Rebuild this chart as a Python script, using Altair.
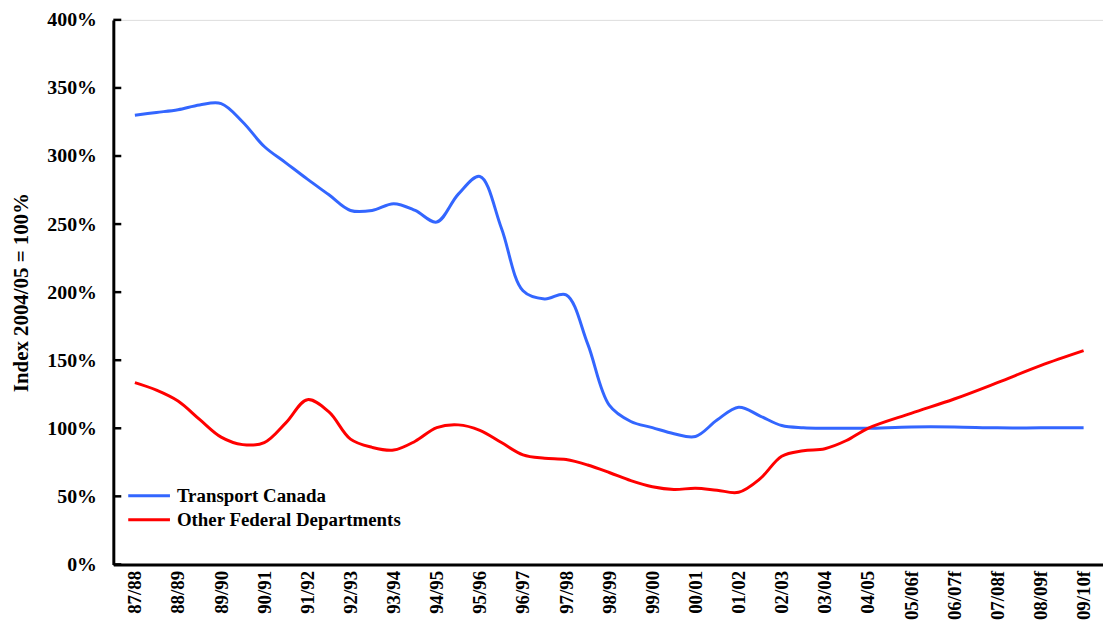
import altair as alt
import pandas as pd

# Category labels (fiscal years, f = forecast)
periods = ["87/88", "88/89", "89/90", "90/91", "91/92", "92/93", "93/94", "94/95",
           "95/96", "96/97", "97/98", "98/99", "99/00", "00/01", "01/02", "02/03",
           "03/04", "04/05", "05/06f", "06/07f", "07/08f", "08/09f", "09/10f"]

# Positions (in category steps) at which values were read
step_pos = [0, 0.5, 1, 1.5, 2, 2.5, 3, 3.5, 4, 4.5, 5, 5.5, 6, 6.5, 7, 7.5, 8, 8.5,
            9, 9.5, 10, 10.5, 11, 11.5, 12, 12.5, 13, 13.5, 14, 14.5, 15, 15.5, 16,
            16.5, 17, 18, 19, 20, 21, 22]

transport_canada = [330, 332, 334, 337.5, 338.5, 325, 307, 295, 283, 271.5, 260, 260,
                    265, 260, 251.5, 272, 285, 247, 201, 195, 198, 162, 117, 105,
                    100.5, 96, 94, 106, 115.5, 109, 102, 100.4, 100, 100, 100,
                    101, 101, 100.3, 100.3, 100.3]

other_federal = [133.5, 128, 120, 106.5, 93.5, 88, 89.5, 104, 121, 112, 92, 86, 84,
                 90.5, 100.5, 102.5, 98.5, 89.5, 80.5, 78, 77, 73, 67.5, 61.5, 57, 55,
                 56, 54.5, 53, 63, 79.5, 83.5, 85, 91, 100, 111, 121.5, 133.5, 146, 157]

series_names = ["Transport Canada", "Other Federal Departments"]
series_colors = ["#3366FF", "#FF0000"]
y_ticks = [0, 50, 100, 150, 200, 250, 300, 350, 400]

FONT = "Liberation Serif"

rows = []
for p, v in zip(step_pos, transport_canada):
    rows.append({"pos": p, "value": v, "series": series_names[0]})
for p, v in zip(step_pos, other_federal):
    rows.append({"pos": p, "value": v, "series": series_names[1]})
df = pd.DataFrame(rows)

label_array = "[" + ",".join("'" + p + "'" for p in periods) + "]"

x_scale = alt.Scale(domain=[-0.5, 22.45], nice=False, zero=False)
y_scale = alt.Scale(domain=[0, 400], nice=False)

lines = alt.Chart(df).mark_line(strokeWidth=3, interpolate="catmull-rom").encode(
    x=alt.X("pos:Q", scale=x_scale,
            axis=alt.Axis(values=list(range(len(periods))),
                          labelExpr=label_array + "[datum.value]",
                          labelAngle=-90, labelFont=FONT, labelFontSize=19,
                          labelFontWeight="bold", labelColor="black",
                          labelPadding=6, ticks=False, tickSize=0, grid=False,
                          domainColor="black", domainWidth=3, title=None,
                          labelOverlap=False)),
    y=alt.Y("value:Q", scale=y_scale,
            axis=alt.Axis(values=y_ticks, labelExpr="datum.value + '%'",
                          labelFont=FONT, labelFontSize=20, labelFontWeight="bold",
                          labelColor="black", labelPadding=17, ticks=False,
                          tickSize=0, grid=False, domainColor="black",
                          domainWidth=3, title="Index 2004/05 = 100%",
                          titleFont=FONT, titleFontSize=21, titleFontWeight="bold",
                          titleColor="black", titleX=-82, labelOverlap=False)),
    color=alt.Color("series:N",
                    scale=alt.Scale(domain=series_names, range=series_colors),
                    sort=series_names,
                    legend=alt.Legend(orient="none", legendX=24, legendY=467,
                                      title=None, symbolType="M-2,0H2",
                                      symbolStrokeWidth=3, symbolSize=441,
                                      symbolFillColor="transparent",
                                      labelFont=FONT, labelFontSize=19,
                                      labelFontWeight="bold", labelColor="black",
                                      labelOffset=16, rowPadding=2,
                                      labelLimit=0)),
    order=alt.Order("pos:Q"),
)

tick_df = pd.DataFrame({"y": y_ticks})
ticks = alt.Chart(tick_df).mark_rule(color="black", strokeWidth=2.5).encode(
    y=alt.Y("y:Q", scale=y_scale),
    x=alt.value(0),
    x2=alt.value(8),
)

chart = alt.layer(ticks, lines).properties(
    width=996,
    height=548,
    autosize=alt.AutoSizeParams(type="none"),
    padding={"left": 106, "top": 10, "right": 0, "bottom": 55},
).configure_view(stroke=None).configure(background="white")

chart.save("out.html", embed_options={"renderer": "svg", "actions": False})
